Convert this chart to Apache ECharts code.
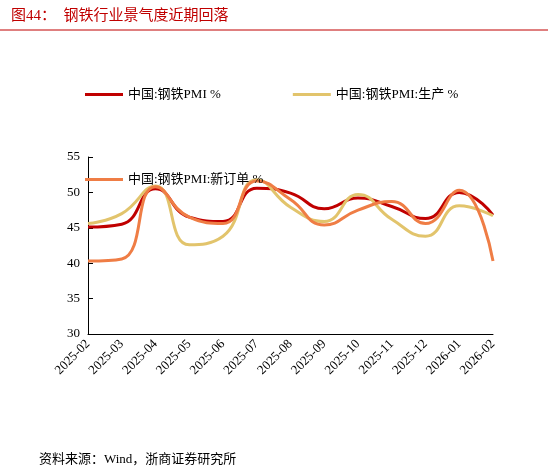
<!DOCTYPE html>
<html><head><meta charset="utf-8">
<script src="https://cdn.jsdelivr.net/npm/echarts@6/dist/echarts.min.js"></script>
<style>body{margin:0;background:#fff}#c{width:548px;height:473px}</style>
</head><body><div id="c"></div>
<script>
const categories=['2025-02','2025-03','2025-04','2025-05','2025-06','2025-07','2025-08','2025-09','2025-10','2025-11','2025-12','2026-01','2026-02'];
const pmi=[45.1,45.5,50.5,46.5,45.9,50.6,49.9,47.7,49.2,48.0,46.3,50.0,46.8];
const production=[45.6,47.0,50.9,42.6,43.8,51.8,47.9,45.9,49.7,46.2,43.8,48.1,46.7];
const newOrders=[40.3,40.6,50.8,46.5,45.6,51.6,49.0,45.4,47.5,48.7,45.6,50.3,40.3];
const names=['中国:钢铁PMI %','中国:钢铁PMI:生产 %','中国:钢铁PMI:新订单 %'];
const colors=['#c00000','#e2c46c','#ef7d45'];
const font='"Liberation Serif", "Noto Sans CJK SC", serif';
const chart=echarts.init(document.getElementById('c'));
const mk=(n,d,i)=>({name:n,type:'line',data:d,smooth:0.5,symbol:'none',lineStyle:{width:3,color:colors[i]},itemStyle:{color:colors[i]}});
chart.setOption({
 animation:false,
 title:[{text:'图44：  钢铁行业景气度近期回落',left:6,top:4,textStyle:{color:'#c00000',fontSize:15,fontWeight:'normal',fontFamily:font}},
  {text:'资料来源：Wind，浙商证券研究所',left:34,top:448,textStyle:{color:'#000',fontSize:13,fontWeight:'normal',fontFamily:font}}],
 graphic:[{type:'line',shape:{x1:0,y1:30,x2:548,y2:30},style:{stroke:'#c00000',lineWidth:1}}],
 legend:{left:80,top:83,width:440,itemWidth:38,itemHeight:3,itemGap:72,textStyle:{fontSize:13,fontFamily:font,color:'#000'},
  data:names.map(n=>({name:n,icon:'rect'}))},
 grid:{left:88,right:55,top:157,bottom:139},
 xAxis:{type:'category',data:categories,boundaryGap:false,axisLine:{lineStyle:{color:'#000'}},axisTick:{show:false},
  axisLabel:{rotate:45,color:'#000',fontSize:13,fontFamily:font,interval:0}},
 yAxis:{type:'value',min:30,max:55,interval:5,splitLine:{show:false},axisLine:{show:true,lineStyle:{color:'#000'}},axisTick:{show:true,inside:true},
  axisLabel:{color:'#000',fontSize:13,fontFamily:font}},
 series:[mk(names[0],pmi,0),mk(names[1],production,1),mk(names[2],newOrders,2)]
});
</script></body></html>
